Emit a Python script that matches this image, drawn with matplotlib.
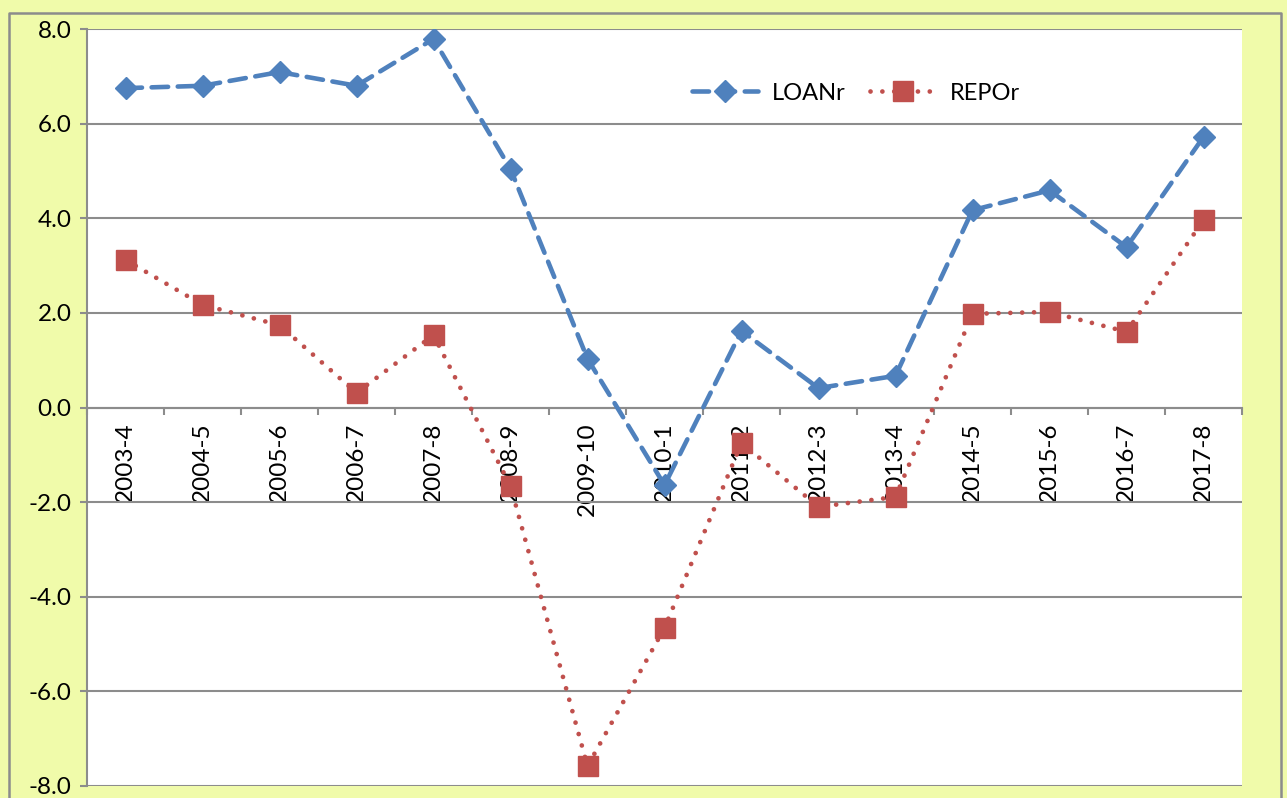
import matplotlib.pyplot as plt
from matplotlib.lines import Line2D
from matplotlib.ticker import FixedLocator

plt.rcParams["font.family"] = ["Lato", "DejaVu Sans"]
plt.rcParams["axes.unicode_minus"] = False

YEARS = ["2003-4", "2004-5", "2005-6", "2006-7", "2007-8", "2008-9", "2009-10",
         "2010-1", "2011-2", "2012-3", "2013-4", "2014-5", "2015-6", "2016-7", "2017-8"]
LOANR = [6.75, 6.80, 7.09, 6.80, 7.79, 5.04, 1.03, -1.64, 1.62, 0.41, 0.67,
         4.17, 4.59, 3.39, 5.72]
REPOR = [3.12, 2.17, 1.74, 0.31, 1.53, -1.66, -7.58, -4.66, -0.75, -2.10, -1.89,
         1.98, 2.02, 1.60, 3.96]

BLUE = "#4F81BD"
RED = "#C0504D"
GRID = "#8C8C8C"
BG = "#F0FBAA"

W, H = 1287, 798
fig = plt.figure(figsize=(W / 100, H / 100), dpi=100, facecolor=BG)

# outer chart border (open at the bottom)
bx0, bx1, by = 9 / W, 1281 / W, 1 - 13 / H
fig.add_artist(Line2D([bx0, bx0, bx1, bx1], [0, by, by, 0],
                      transform=fig.transFigure, color=GRID, lw=1.8, zorder=10))

ax = fig.add_axes([87 / W, 12 / H, 1155 / W, 757 / H])
ax.set_facecolor("white")

x = list(range(len(YEARS)))
ax.plot(x, LOANR, color=BLUE, lw=3.3, linestyle=(0, (3.6, 2.1)),
        dash_capstyle="round", marker="D", ms=11.5, mec=BLUE, label="LOANr", zorder=3)
ax.plot(x, REPOR, color=RED, lw=3.4, linestyle=(0, (0.01, 2.5)),
        dash_capstyle="round", marker="s", ms=14, mec=RED, label="REPOr", zorder=4)

ax.set_xlim(-0.5, len(YEARS) - 0.5)
ax.set_ylim(-8, 8)
ax.set_yticks(range(-8, 9, 2))
ax.set_yticklabels([f"{v:.1f}" for v in range(-8, 9, 2)])
ax.grid(axis="y", color=GRID, lw=1.5)
ax.set_axisbelow(True)

for side in ("top", "right"):
    ax.spines[side].set_visible(False)
for side in ("left", "bottom"):
    ax.spines[side].set_color(GRID)
    ax.spines[side].set_linewidth(1.5)
ax.spines["bottom"].set_position(("data", 0))
ax.spines["bottom"].set_zorder(2)

ax.set_xticks(x)
ax.set_xticklabels(YEARS, rotation=90)
ax.xaxis.set_minor_locator(FixedLocator([i - 0.5 for i in range(len(YEARS) + 1)]))
ax.tick_params(axis="x", which="major", length=0, pad=11, labelsize=17.5)
ax.tick_params(axis="x", which="minor", direction="out", length=5, width=1.5, color=GRID)
ax.tick_params(axis="y", direction="out", length=5, width=1.5, color=GRID,
               labelsize=17.5, pad=6)

fig.legend(loc="center", bbox_to_anchor=(856 / W, 1 - 93 / H), ncol=2,
           frameon=False, fontsize=17, handlelength=2.8, handletextpad=0.6,
           columnspacing=1.0)

fig.savefig("out.png", dpi=100, facecolor=BG)
